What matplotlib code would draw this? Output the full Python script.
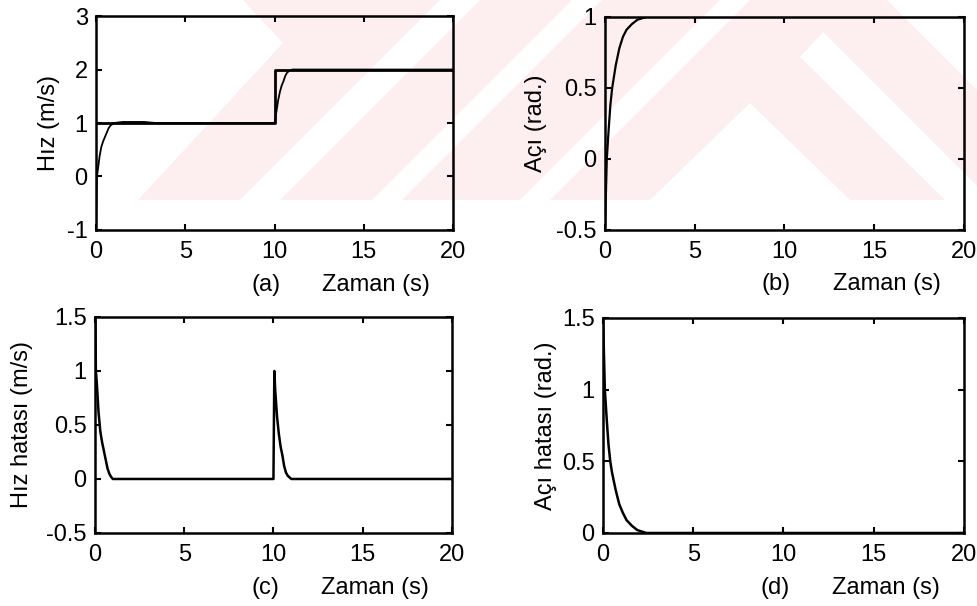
import matplotlib
matplotlib.use("Agg")
import matplotlib.pyplot as plt
from matplotlib.patches import Polygon
from matplotlib.ticker import FuncFormatter

plt.rcParams['font.family'] = ['Liberation Sans', 'DejaVu Sans']

# (a) hiz: referans ve cevap
t_ref = [0, 10, 10, 20]
v_ref = [1, 1, 2, 2]
t_hiz = [0, 0.05, 0.1, 0.2, 0.3, 0.4, 0.5, 0.6, 0.7, 0.8, 1.0, 1.5, 2.0, 2.7, 3.0, 3.4,
         10.0, 10.1, 10.2, 10.3, 10.4, 10.5, 10.6, 10.7, 10.8, 11.0, 11.2, 20]
v_hiz = [-1, 0, 0.12, 0.38, 0.56, 0.66, 0.74, 0.82, 0.9, 0.95, 1.0, 1.02, 1.02, 1.02, 1.01, 1.0,
         1.0, 1.2, 1.42, 1.58, 1.7, 1.78, 1.88, 1.94, 1.97, 2.0, 2.0, 2.0]

# (b) aci
t_aci = [0, 0.1, 0.2, 0.3, 0.4, 0.5, 0.6, 0.8, 1.0, 1.2, 1.5, 1.8, 2.3, 3.0, 20]
v_aci = [-0.5, 0.0, 0.2, 0.38, 0.5, 0.58, 0.66, 0.78, 0.86, 0.91, 0.95, 0.98, 1.0, 1.0, 1.0]

# (c) hiz hatasi
t_hh = [0, 0.05, 0.1, 0.2, 0.3, 0.4, 0.5, 0.6, 0.7, 0.8, 0.9, 1.0, 1.2,
        10.0, 10.05, 10.1, 10.2, 10.3, 10.4, 10.5, 10.6, 10.7, 10.8, 11.0, 11.2, 20]
v_hh = [2.0, 1.0, 0.9, 0.62, 0.44, 0.34, 0.26, 0.18, 0.1, 0.05, 0.02, 0.0, 0.0,
        0.0, 1.0, 0.82, 0.58, 0.42, 0.3, 0.22, 0.12, 0.06, 0.03, 0.0, 0.0, 0.0]

# (d) aci hatasi
t_ah = [0, 0.1, 0.2, 0.3, 0.4, 0.5, 0.7, 0.9, 1.1, 1.3, 1.6, 1.9, 2.4, 3.0, 20]
v_ah = [1.5, 1.0, 0.8, 0.62, 0.5, 0.42, 0.3, 0.2, 0.14, 0.09, 0.05, 0.02, 0.0, 0.0, 0.0]

x_ticks = [0, 5, 10, 15, 20]

fig = plt.figure(figsize=(9.78, 6.06), dpi=100)

# soluk pembe filigran (piksel koordinatlari, y asagi)
W, H = 978.0, 606.0
pink = '#fdeef0'
def px(pts):
    return [(x / W, 1 - y / H) for x, y in pts]

wm_pink = [[(243, 0), (283, 43), (138, 200), (978, 200), (978, 0)]]
wm_white = [
    [(240, 200), (280, 200), (480, 0), (440, 0)],
    [(372, 200), (402, 200), (602, 0), (572, 0)],
    [(520, 200), (550, 200), (750, 0), (720, 0)],
    [(750, 103), (650, 200), (850, 200)],
    [(800, 57), (823, 32), (991, 200), (945, 200)],
    [(887, 0), (978, 0), (978, 91)],
]
for p in wm_pink:
    fig.patches.append(Polygon(px(p), closed=True, transform=fig.transFigure,
                               facecolor=pink, edgecolor='none', zorder=-2))
for p in wm_white:
    fig.patches.append(Polygon(px(p), closed=True, transform=fig.transFigure,
                               facecolor='white', edgecolor='none', zorder=-1))

boxes = {
    'a': [0.0982, 0.6205, 0.365, 0.353],
    'b': [0.6186, 0.6205, 0.367, 0.3515],
    'c': [0.0971, 0.1205, 0.365, 0.3564],
    'd': [0.6166, 0.1205, 0.369, 0.355],
}
fmt = FuncFormatter(lambda v, p: '%g' % v)

def setup(ax, ylim, yticks, ylabel, tag, labx):
    ax.set_facecolor('none')
    ax.set_zorder(2)
    ax.set_xlim(0, 20)
    ax.set_ylim(*ylim)
    ax.set_xticks(x_ticks)
    ax.set_yticks(yticks)
    ax.yaxis.set_major_formatter(fmt)
    ax.tick_params(direction='in', top=True, right=True, length=4, width=1.5,
                   labelsize=17, pad=6)
    ax.tick_params(axis='x', pad=8)
    for s in ax.spines.values():
        s.set_linewidth(1.8)
    ax.set_ylabel(ylabel, fontsize=17)
    ax.yaxis.set_label_coords(labx, 0.5)
    ax.text(0.477, -0.255, '(%s)' % tag, transform=ax.transAxes,
            ha='center', va='center', fontsize=17)
    ax.text(0.785, -0.255, 'Zaman (s)', transform=ax.transAxes,
            ha='center', va='center', fontsize=17)

ax = fig.add_axes(boxes['a'])
ax.plot(t_ref, v_ref, color='black', lw=2)
ax.plot(t_hiz, v_hiz, color='black', lw=1.3)
setup(ax, (-1, 3), [-1, 0, 1, 2, 3], 'Hız (m/s)', 'a', -0.10)

ax = fig.add_axes(boxes['b'])
ax.plot(t_aci, v_aci, color='black', lw=1.6)
setup(ax, (-0.5, 1), [-0.5, 0, 0.5, 1], 'Açı (rad.)', 'b', -0.162)

ax = fig.add_axes(boxes['c'])
ax.plot(t_hh, v_hh, color='black', lw=1.8)
setup(ax, (-0.5, 1.5), [-0.5, 0, 0.5, 1, 1.5], 'Hız hatası (m/s)', 'c', -0.174)

ax = fig.add_axes(boxes['d'])
ax.plot(t_ah, v_ah, color='black', lw=1.8)
setup(ax, (0, 1.5), [0, 0.5, 1, 1.5], 'Açı hatası (rad.)', 'd', -0.127)

fig.savefig('out.png', dpi=100)
